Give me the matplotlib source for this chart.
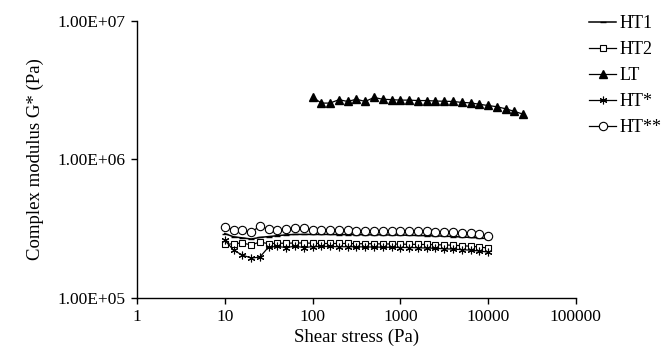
import matplotlib
matplotlib.use("Agg")
import matplotlib.pyplot as plt
from matplotlib.ticker import FixedLocator, FuncFormatter, NullLocator

plt.rcParams["font.family"] = ["Liberation Serif", "DejaVu Serif"]

# shear stress points (Pa)
stress_ht = [10, 12.6, 15.8, 20, 25.1, 31.6, 39.8, 50.1, 63.1, 79.4,
             100, 126, 158, 200, 251, 316, 398, 501, 631, 794,
             1000, 1259, 1585, 1995, 2512, 3162, 3981, 5012, 6310, 7943, 10000]
stress_lt = [100, 126, 158, 200, 251, 316, 398, 501, 631, 794,
             1000, 1259, 1585, 1995, 2512, 3162, 3981, 5012, 6310, 7943,
             10000, 12589, 15849, 19953, 25119]

# complex modulus G* (Pa)
g_ht1 = [2.90e5, 2.75e5, 2.70e5, 2.65e5, 2.72e5, 2.76e5, 2.80e5, 2.84e5, 2.86e5, 2.86e5,
         2.86e5, 2.86e5, 2.86e5, 2.85e5, 2.85e5, 2.85e5, 2.84e5, 2.84e5, 2.84e5, 2.83e5,
         2.83e5, 2.82e5, 2.81e5, 2.80e5, 2.79e5, 2.78e5, 2.76e5, 2.74e5, 2.72e5, 2.70e5, 2.66e5]
g_ht2 = [2.42e5, 2.45e5, 2.48e5, 2.40e5, 2.52e5, 2.45e5, 2.47e5, 2.47e5, 2.48e5, 2.48e5,
         2.47e5, 2.46e5, 2.46e5, 2.46e5, 2.46e5, 2.45e5, 2.45e5, 2.45e5, 2.44e5, 2.44e5,
         2.43e5, 2.43e5, 2.42e5, 2.42e5, 2.41e5, 2.40e5, 2.39e5, 2.37e5, 2.35e5, 2.32e5, 2.28e5]
g_lt = [2.82e6, 2.55e6, 2.55e6, 2.70e6, 2.62e6, 2.72e6, 2.62e6, 2.80e6, 2.72e6, 2.70e6,
        2.68e6, 2.68e6, 2.66e6, 2.66e6, 2.64e6, 2.63e6, 2.62e6, 2.58e6, 2.56e6, 2.50e6,
        2.45e6, 2.40e6, 2.32e6, 2.22e6, 2.12e6]
g_htx = [2.60e5, 2.20e5, 2.03e5, 1.93e5, 1.96e5, 2.32e5, 2.34e5, 2.30e5, 2.35e5, 2.30e5,
         2.33e5, 2.34e5, 2.34e5, 2.33e5, 2.33e5, 2.33e5, 2.32e5, 2.32e5, 2.31e5, 2.31e5,
         2.30e5, 2.30e5, 2.29e5, 2.28e5, 2.27e5, 2.25e5, 2.24e5, 2.22e5, 2.20e5, 2.17e5, 2.13e5]
g_htxx = [3.23e5, 3.10e5, 3.07e5, 2.97e5, 3.28e5, 3.12e5, 3.06e5, 3.12e5, 3.20e5, 3.20e5,
          3.10e5, 3.07e5, 3.06e5, 3.06e5, 3.06e5, 3.05e5, 3.05e5, 3.05e5, 3.04e5, 3.04e5,
          3.04e5, 3.03e5, 3.02e5, 3.01e5, 3.00e5, 2.99e5, 2.97e5, 2.94e5, 2.91e5, 2.86e5, 2.80e5]

y_ticks = [1e5, 1e6, 1e7]
x_ticks = [1, 10, 100, 1000, 10000, 100000]

fig = plt.figure(figsize=(6.63, 3.59), dpi=100)
ax = fig.add_axes([0.2066, 0.1713, 0.662, 0.770])

ax.plot(stress_ht, g_ht1, color="black", lw=1.1, marker="_", markersize=5, label="HT1")
ax.plot(stress_ht, g_ht2, color="black", lw=0.9, marker="s", markersize=4.5,
        markerfacecolor="white", markeredgewidth=0.8, label="HT2")
ax.plot(stress_lt, g_lt, color="black", lw=0.9, marker="^", markersize=6, label="LT")
ax.plot(stress_ht, g_htx, color="black", lw=0.9, marker=(6, 2, 0), markersize=5.5,
        markeredgewidth=0.8, label="HT*")
ax.plot(stress_ht, g_htxx, color="black", lw=0.9, marker="o", markersize=6,
        markerfacecolor="white", markeredgewidth=0.8, label="HT**")

ax.set_xscale("log")
ax.set_yscale("log")
ax.set_xlim(1, 100000)
ax.set_ylim(1e5, 1e7)
ax.xaxis.set_major_locator(FixedLocator(x_ticks))
ax.yaxis.set_major_locator(FixedLocator(y_ticks))
ax.xaxis.set_minor_locator(NullLocator())
ax.yaxis.set_minor_locator(NullLocator())
ax.xaxis.set_major_formatter(FuncFormatter(lambda v, p: f"{v:.0f}"))
ax.yaxis.set_major_formatter(FuncFormatter(lambda v, p: f"{v:.2E}"))

for s in ["top", "right"]:
    ax.spines[s].set_visible(False)
for s in ["left", "bottom"]:
    ax.spines[s].set_linewidth(1.0)

ax.tick_params(axis="both", direction="out", length=4, width=1.0,
               labelsize=12.5, pad=4, colors="black")

ax.set_xlabel("Shear stress (Pa)", fontsize=13.5, labelpad=3)
ax.set_ylabel("Complex modulus G* (Pa)", fontsize=13.5, labelpad=10)

ax.legend(loc="upper left", bbox_to_anchor=(0.889, 0.958),
          bbox_transform=fig.transFigure, frameon=False, fontsize=13,
          handlelength=1.5, handletextpad=0.15, labelspacing=0.5,
          borderaxespad=0, borderpad=0)

fig.savefig("out.png", dpi=100)
